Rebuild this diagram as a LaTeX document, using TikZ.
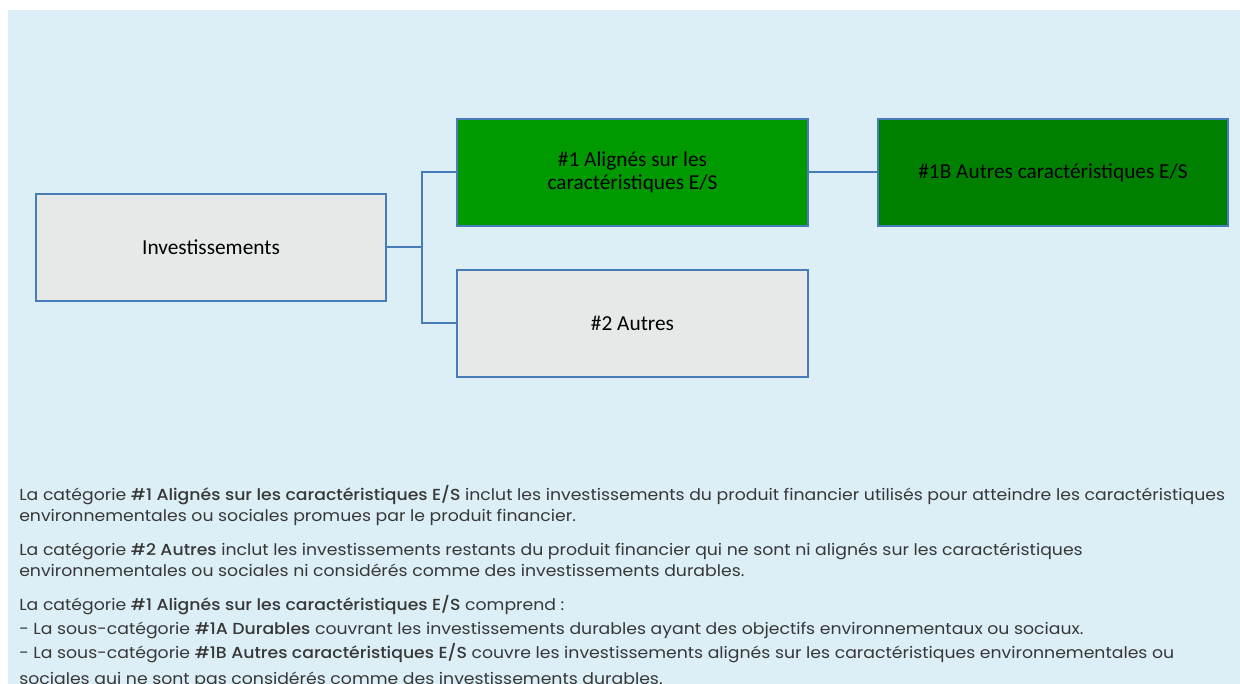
\documentclass[tikz,border=0pt]{standalone}
\usepackage{fontspec}
\setmainfont{Carlito}
\newfontfamily\bodyfont[FakeStretch=1.08,BoldFont={Poppins Medium}]{Poppins}
\definecolor{bgblue}{RGB}{220,239,247}
\definecolor{edgeblue}{RGB}{72,124,184}
\definecolor{boxgray}{RGB}{231,233,233}
\definecolor{greenA}{RGB}{0,153,0}
\definecolor{greenB}{RGB}{0,128,0}
\definecolor{bodytext}{RGB}{55,55,55}
\begin{document}
\begin{tikzpicture}[x=0.75pt,y=-0.75pt,
  catbox/.style={draw=edgeblue,line width=1.5pt,minimum width=263pt,minimum height=80pt,
    inner sep=0pt,align=center,font=\fontsize{16}{17}\selectfont,text=black},
  link/.style={draw=edgeblue,line width=1.5pt},
  bodyline/.style={anchor=base west,inner sep=0pt,text=bodytext,font=\bodyfont\fontsize{12}{14}\selectfont}]
\useasboundingbox (0,0) rectangle (1240,684);
\clip (0,0) rectangle (1240,684);
\fill[bgblue] (8,10) rectangle (1240,684);
\node[catbox,fill=boxgray] (inv) at (211,247.5) {Investissements};
\node[catbox,fill=greenA] (a1) at (632.5,172.5) {\#1 Alignés sur les\\caractéristiques E/S};
\node[catbox,fill=greenB] (a1b) at (1053,172.5) {\#1B Autres caractéristiques E/S};
\node[catbox,fill=boxgray] (a2) at (632.5,323.5) {\#2 Autres};
\coordinate (j) at (421.5,247.5);
\draw[link] (inv.east) -- (j);
\draw[link] (a1.west) -| (j) |- (a2.west);
\draw[link] (a1.east) -- (a1b.west);
\node[bodyline] (t1) at (19,501) {La catégorie \textbf{\#1 Alignés sur les caractéristiques E/S} inclut les investissements du produit financier utilisés pour atteindre les caractéristiques};
\node[bodyline] (t2) at (19,522) {environnementales ou sociales promues par le produit financier.};
\node[bodyline] (t3) at (19,555) {La catégorie \textbf{\#2 Autres} inclut les investissements restants du produit financier qui ne sont ni alignés sur les caractéristiques};
\node[bodyline] (t4) at (19,576) {environnementales ou sociales ni considérés comme des investissements durables.};
\node[bodyline] (t5) at (19,610) {La catégorie \textbf{\#1 Alignés sur les caractéristiques E/S} comprend :};
\node[bodyline] (t6) at (19,634) {- La sous-catégorie \textbf{\#1A Durables} couvrant les investissements durables ayant des objectifs environnementaux ou sociaux.};
\node[bodyline] (t7) at (19,658) {- La sous-catégorie \textbf{\#1B Autres caractéristiques E/S} couvre les investissements alignés sur les caractéristiques environnementales ou};
\node[bodyline] (t8) at (19,684) {sociales qui ne sont pas considérés comme des investissements durables.};
\end{tikzpicture}
\end{document}
